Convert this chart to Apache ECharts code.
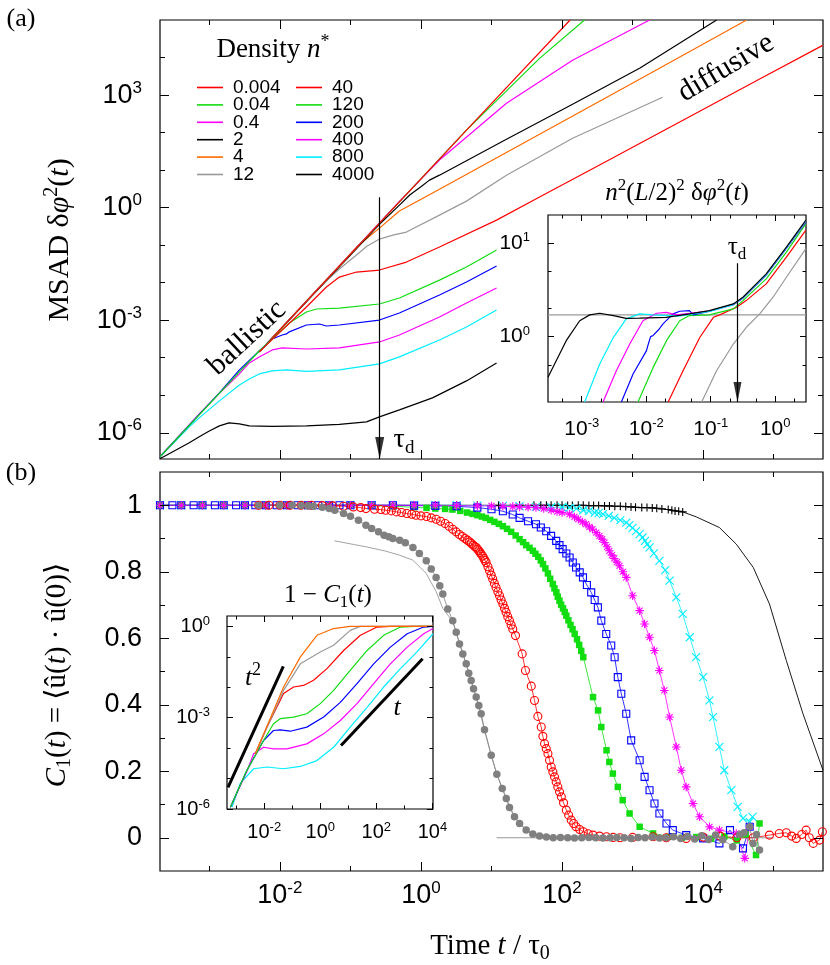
<!DOCTYPE html>
<html><head><meta charset="utf-8">
<script src="https://cdn.jsdelivr.net/npm/echarts@6/dist/echarts.min.js"></script>
<style>html,body{margin:0;padding:0;background:#fff}#c{width:830px;height:965px}</style>
</head><body><div id="c"></div>
<script>
// ================= DATA =================
// Panel (a): MSAD vs t/tau0, per density n*
const msad_0p004 = [[5.1e-3,1.43e-4],[4.42,116],[130,1.0e5]];
const msad_0p04  = [[5.1e-3,1.43e-4],[4.42,116],[48,9.5e3],[208,1.0e5]];
const msad_0p4   = [[5.1e-3,1.43e-4],[0.495,1.46],[1.83,18.5],[16.3,604],[141,8430],[1742,1.0e5]];
const msad_2     = [[5.1e-3,1.43e-4],[0.258,0.36],[0.35,0.62],[0.495,1.17],[0.7,2.2],[1.0,3.6],[1.32,5.4],[1.83,7.33],[16.3,66.6],[141,569],[1256,5160],[15520,1.0e5]];
const msad_4     = [[5.1e-3,1.43e-4],[0.122,0.0889],[0.258,0.284],[0.495,0.81],[1.83,3.1],[48,90],[1256,2630],[41400,1.0e5]];
const msad_12    = [[5.1e-3,1.43e-4],[0.0363,7.65e-3],[0.0698,0.0231],[0.122,0.0544],[0.169,0.092],[0.258,0.145],[0.4,0.185],[0.623,0.223],[1.83,0.631],[4.42,1.49],[16.3,7.33],[141,70.8],[2667,873]];
const msad_40    = [[5.1e-3,1.43e-4],[0.0238,2.25e-3],[0.0457,7.65e-3],[0.0698,0.0141],[0.122,0.0192],[0.258,0.0217],[0.623,0.0354],[1.83,0.0889],[11.8,0.465],[48,1.91],[428,17.3],[11220,468],[63240,2680],[4.95e5,2.11e4]];
const msad_120   = [[2e-4,2.3e-7],[2.67e-3,4.19e-5],[5.1e-3,1.51e-4],[7.8e-3,3.16e-4],[0.0136,8.43e-4],[0.0238,1.65e-3],[0.033,1.99e-3],[0.0698,2.11e-3],[0.258,2.70e-3],[0.495,3.90e-3],[1.83,0.0117],[4.42,0.0261],[11.8,0.074]];
const msad_200   = [[2e-4,2.3e-7],[1.39e-3,1.16e-5],[2.67e-3,4.73e-5],[5.1e-3,1.51e-4],[7.8e-3,3.16e-4],[0.0108,4.04e-4],[0.0124,4.3e-4],[0.0136,4.9e-4],[0.0238,7.45e-4],[0.0363,7.93e-4],[0.0457,7.0e-4],[0.0698,7.45e-4],[0.258,1.01e-3],[0.495,1.56e-3],[1.83,4.69e-3],[4.42,0.0104],[11.8,0.0277]];
const msad_400   = [[2e-4,2.3e-7],[7.2e-4,3.18e-6],[1.39e-3,1.12e-5],[2.67e-3,3.70e-5],[3.69e-3,7.26e-5],[5.1e-3,1.05e-4],[7.8e-3,1.61e-4],[0.0108,1.82e-4],[0.0238,1.71e-4],[0.0698,1.82e-4],[0.258,2.63e-4],[0.495,4.04e-4],[1.83,1.22e-3],[4.42,2.87e-3],[11.8,7.2e-3]];
const msad_800   = [[2e-4,2.3e-7],[5.2e-4,1.44e-6],[7.2e-4,2.49e-6],[1.39e-3,7.08e-6],[2.67e-3,1.88e-5],[3.69e-3,2.72e-5],[5.1e-3,3.70e-5],[7.8e-3,4.45e-5],[0.0124,4.73e-5],[0.0238,4.31e-5],[0.0698,4.73e-5],[0.258,6.84e-5],[0.495,1.05e-4],[1.83,2.97e-4],[4.42,6.59e-4],[11.8,1.87e-3]];
const msad_4000  = [[2e-4,2.02e-7],[5.2e-4,5.4e-7],[7.2e-4,7.8e-7],[1.0e-3,1.12e-6],[1.39e-3,1.53e-6],[1.9e-3,1.84e-6],[2.67e-3,1.73e-6],[3.69e-3,1.53e-6],[7.8e-3,1.48e-6],[0.0238,1.53e-6],[0.0698,1.67e-6],[0.169,1.95e-6],[0.258,2.65e-6],[0.495,4.08e-6],[1.455,8.5e-6],[4.42,2.41e-5],[11.8,7.26e-5]];

// Inset (a): n^2 (L/2)^2 MSAD
const scaled_4000 = [[3.0e-4,0.367],[5.75e-4,0.906],[9.3e-4,1.48],[1.33e-3,1.71],[1.9e-3,1.78],[3.1e-3,1.68],[4.9e-3,1.57],[7.9e-3,1.58],[0.0204,1.61],[0.0468,1.75],[0.0955,1.90],[0.224,2.24],[0.316,2.64],[0.724,4.69],[1.49,9.06],[2.97,17.5]];
const scaled_800  = [[1.11e-3,0.2],[1.9e-3,0.509],[3.1e-3,0.984],[4.9e-3,1.55],[7.9e-3,1.75],[0.0128,1.71],[0.0316,1.66],[0.0955,1.86],[0.224,2.2],[0.316,2.6],[0.724,4.6],[1.49,8.9],[2.97,17.2]];
const scaled_400  = [[2.14e-3,0.2],[3.44e-3,0.432],[5.55e-3,0.834],[8.9e-3,1.48],[0.0145,1.78],[0.0204,1.82],[0.0295,1.71],[0.0955,1.88],[0.224,2.21],[0.316,2.6],[0.724,4.6],[1.49,8.9],[2.97,17.0]];
const scaled_200  = [[4.12e-3,0.2],[6.25e-3,0.398],[0.0101,0.708],[0.0107,0.82],[0.0117,1.0],[0.0123,0.97],[0.0128,1.03],[0.0158,1.2],[0.0182,1.37],[0.0261,1.75],[0.0331,1.87],[0.0468,1.90],[0.0537,1.71],[0.0955,1.87],[0.224,2.2],[0.316,2.58],[0.724,4.55],[1.49,8.8],[2.97,16.8]];
const scaled_120  = [[7.46e-3,0.2],[0.0128,0.469],[0.0206,0.906],[0.0331,1.48],[0.0468,1.68],[0.0955,1.71],[0.224,1.98],[0.316,2.43],[0.724,4.15],[1.49,8.0],[2.97,16.1]];
const scaled_40   = [[0.0219,0.2],[0.0372,0.432],[0.0676,0.98],[0.11,1.61],[0.138,1.71],[0.251,2.06],[0.355,2.43],[0.724,3.67],[1.49,7.08],[2.97,13.7]];
const scaled_12   = [[0.0724,0.2],[0.123,0.432],[0.224,0.834],[0.357,1.26],[0.575,1.75],[0.925,2.64],[1.49,4.32],[2.97,8.7]];
const plateauLevel = [[3e-4,1.71],[3,1.71]];
const tauD = 0.26;

// Panel (b): C1(t)
const c1_12 = [[0.005,1],[0.01,1],[0.015,1],[0.02,0.999],[0.025,0.998],[0.03,0.997],[0.04,0.994],[0.05,0.99],[0.06,0.985],[0.08,0.975],[0.1,0.967],[0.13,0.955],[0.166,0.94],[0.2,0.93],[0.25,0.92],[0.3,0.91],[0.35,0.905],[0.4,0.9],[0.5,0.895],[0.6,0.887],[0.77,0.873],[0.95,0.855],[1.19,0.833],[1.4,0.808],[1.64,0.783],[1.85,0.758],[2.04,0.733],[2.4,0.688],[2.82,0.653],[3.16,0.618],[3.52,0.583],[3.92,0.553],[4.38,0.523],[4.76,0.495],[5.15,0.473],[5.56,0.448],[6.07,0.423],[6.61,0.398],[7.14,0.373],[7.96,0.325],[9.91,0.248],[11.9,0.191],[14.2,0.148],[16.2,0.118],[18.0,0.091],[21.2,0.063],[25.0,0.043],[31.0,0.023],[38.5,0.011],[48,0.005],[60,0.002],[75,0],[95,0.001],[120,0],[150,-0.001],[190,0],[240,0.001],[300,0],[380,-0.001],[480,0],[600,0.001],[760,0],[950,-0.002],[1200,0.001],[1500,0],[1900,0.002],[2400,-0.001],[3000,0],[3800,0.003],[4800,-0.002],[6000,0.004],[7600,-0.004],[9500,0.006],[12000,-0.005],[15000,0.008],[19000,-0.006],[26300,-0.027],[33000,0.01],[38000,0.015],[45700,0.033],[51000,-0.017],[57000,0.01],[63000,-0.037]];
const c1_12_curve = [[0.0593,0.893],[0.167,0.875],[0.316,0.862],[0.495,0.85],[0.766,0.835],[1.186,0.795],[1.644,0.74],[2.04,0.69],[2.82,0.65],[4.38,0.523],[6.07,0.423],[7.96,0.325],[9.91,0.248],[11.9,0.191],[16.2,0.118],[21.2,0.063],[31,0.023],[38.5,0.011],[60,0.002],[100,0]];
const c1_zero = [[11.8,0],[1e5,0]];
const c1_40 = [[0.005,1],[0.007,1],[0.01,1],[0.014,1],[0.02,1],[0.028,1],[0.04,0.999],[0.056,0.998],[0.08,0.997],[0.11,0.995],[0.14,0.993],[0.166,0.99],[0.22,0.988],[0.27,0.987],[0.316,0.985],[0.38,0.983],[0.45,0.98],[0.53,0.978],[0.63,0.975],[0.74,0.973],[0.85,0.97],[1.0,0.968],[1.2,0.966],[1.4,0.962],[1.64,0.958],[1.9,0.952],[2.2,0.945],[2.5,0.937],[2.82,0.928],[3.15,0.92],[3.5,0.912],[3.85,0.906],[4.2,0.9],[4.55,0.895],[4.88,0.89],[5.2,0.885],[5.5,0.88],[5.8,0.876],[6.07,0.873],[6.35,0.868],[6.6,0.863],[6.9,0.858],[7.14,0.853],[7.5,0.847],[7.8,0.84],[8.1,0.834],[8.41,0.828],[8.9,0.815],[9.38,0.803],[9.9,0.79],[10.4,0.778],[11.0,0.765],[11.6,0.753],[12.3,0.74],[13.0,0.728],[13.7,0.715],[14.5,0.703],[15.3,0.69],[16.1,0.678],[17.0,0.665],[18.0,0.653],[19.0,0.64],[20.0,0.628],[21.9,0.608],[27.2,0.553],[30.3,0.503],[36.6,0.456],[40.7,0.413],[45.4,0.365],[50.7,0.333],[53.5,0.305],[56.5,0.283],[59.7,0.268],[63.1,0.253],[66.5,0.233],[70.2,0.213],[74.1,0.198],[78.3,0.183],[82.6,0.168],[87.1,0.153],[92.2,0.138],[97.7,0.123],[105,0.105],[115,0.083],[124,0.068],[135,0.053],[146,0.043],[158,0.033],[178,0.025],[200,0.018],[235,0.012],[275,0.008],[340,0.005],[427,0.003],[530,0.001],[661,0],[1000,0.001],[1950,0.003],[3000,0],[5750,-0.002],[10000,0.002],[17400,0.005],[30000,0],[51300,0],[87100,0.008],[1.2e5,0.013],[1.51e5,0.015],[1.8e5,0.005],[2.09e5,-0.002],[2.5e5,0.01],[2.88e5,0.023],[3.2e5,0.0],[3.63e5,-0.017],[4.47e5,-0.007],[4.9e5,0.018]];
const c1_120 = [[2e-4,1],[4e-4,1],[8e-4,1],[1.6e-3,1],[3.2e-3,1],[6.3e-3,1],[0.0126,1],[0.025,1],[0.05,1],[0.1,1],[0.2,0.999],[0.4,0.997],[0.8,0.994],[1.2,0.992],[1.6,0.99],[2.2,0.989],[2.8,0.987],[3.6,0.983],[4.5,0.978],[5.4,0.974],[6.3,0.97],[7.3,0.966],[8.3,0.962],[9.6,0.956],[11,0.95],[12.7,0.944],[14.5,0.937],[16.6,0.929],[19,0.92],[22,0.909],[25,0.898],[28,0.889],[31,0.88],[34.6,0.872],[38.6,0.863],[42,0.854],[46,0.845],[50,0.834],[53.7,0.823],[58,0.81],[63,0.795],[68,0.779],[74,0.763],[78,0.75],[83,0.738],[87,0.725],[92,0.713],[97,0.701],[103,0.69],[109,0.679],[115,0.668],[123,0.654],[132,0.64],[141,0.627],[151,0.613],[163,0.597],[175,0.58],[187,0.562],[200,0.543],[275,0.423],[324,0.383],[360,0.333],[427,0.263],[468,0.228],[525,0.193],[617,0.153],[724,0.113],[906,0.073],[1259,0.033],[1950,0.013],[3311,0.003],[5000,0],[8000,0.002],[13000,-0.003],[20000,0.004],[30000,-0.008],[40000,0.01],[56200,-0.052],[63000,0.043]];
const c1_200 = [[2e-4,1],[3e-4,1],[4e-4,1],[6e-4,1],[8e-4,1],[1.2e-3,1],[1.6e-3,1],[2.4e-3,1],[3.2e-3,1],[4.5e-3,1],[6.3e-3,1],[9e-3,1],[0.0126,1],[0.018,1],[0.025,1],[0.035,1],[0.05,1],[0.07,1],[0.1,1],[0.2,1],[0.4,1],[0.8,0.999],[1.6,0.998],[3.2,0.997],[6.3,0.993],[10,0.988],[14.5,0.982],[20,0.972],[25,0.962],[33,0.952],[42.7,0.943],[50,0.933],[59.6,0.922],[70,0.908],[82.6,0.893],[92,0.88],[102,0.868],[115,0.855],[128,0.843],[142,0.828],[158,0.813],[178,0.798],[198,0.783],[225,0.76],[259,0.738],[290,0.715],[322,0.693],[360,0.653],[423,0.613],[498,0.578],[556,0.543],[617,0.483],[692,0.433],[813,0.373],[955,0.293],[1259,0.233],[1479,0.183],[1738,0.143],[2042,0.103],[2399,0.073],[3020,0.043],[3715,0.023],[5754,0.008],[10000,-0.002],[17000,-0.017],[24000,0.023],[36700,-0.032],[45700,0.033]];
const c1_400 = [[2e-4,1],[4e-4,1],[8e-4,1],[1.6e-3,1],[3.2e-3,1],[6.3e-3,1],[0.0126,1],[0.025,1],[0.05,1],[0.1,1],[0.2,1],[0.4,1],[0.8,1],[1.6,1],[3.2,0.999],[6.3,0.998],[10,0.998],[14.5,0.997],[20,0.996],[25,0.995],[33,0.994],[42.7,0.993],[55,0.99],[70,0.985],[85,0.981],[100,0.978],[128,0.973],[150,0.965],[170,0.958],[195,0.95],[219,0.943],[245,0.935],[270,0.928],[305,0.918],[339,0.908],[370,0.898],[400,0.888],[435,0.875],[468,0.863],[510,0.85],[550,0.84],[600,0.829],[653,0.818],[730,0.8],[813,0.783],[1000,0.728],[1259,0.683],[1479,0.643],[1738,0.603],[2042,0.563],[2399,0.503],[2818,0.443],[3350,0.363],[4169,0.273],[4898,0.203],[5754,0.153],[7178,0.103],[8913,0.063],[12300,0.033],[17000,0.023],[29500,0.013],[38900,-0.062],[45700,0.033]];
const c1_800 = [[2e-4,1],[4e-4,1],[8e-4,1],[1.6e-3,1],[3.2e-3,1],[6.3e-3,1],[0.0126,1],[0.025,1],[0.05,1],[0.1,1],[0.2,1],[0.4,1],[0.8,1],[1.6,1],[3.2,1],[6.3,0.999],[14.5,0.998],[25,0.997],[42.7,0.995],[70,0.994],[100,0.994],[128,0.993],[160,0.99],[200,0.985],[240,0.982],[290,0.978],[330,0.976],[380,0.973],[460,0.968],[550,0.962],[670,0.955],[813,0.948],[900,0.94],[1000,0.932],[1120,0.922],[1259,0.913],[1380,0.903],[1500,0.893],[1620,0.883],[1738,0.873],[2000,0.855],[2399,0.833],[2900,0.805],[3350,0.773],[4169,0.723],[5129,0.673],[6457,0.603],[7943,0.543],[10000,0.483],[12300,0.413],[13800,0.363],[17000,0.273],[19950,0.203],[25100,0.143],[30900,0.093],[36700,0.058],[45700,0.048],[50100,0.063]];
const c1_4000 = [[2e-4,1],[4e-4,1],[8e-4,1],[1.6e-3,1],[3.2e-3,1],[6.3e-3,1],[0.0126,1],[0.025,1],[0.05,1],[0.1,1],[0.2,1],[0.4,1],[0.8,1],[1.6,1],[3.2,1],[6.3,1],[12.6,1],[25,1],[40,1],[50,1],[60,1],[70,1],[85,1],[100,1],[120,0.999],[140,0.999],[170,1],[200,1],[240,0.999],[280,0.999],[330,0.999],[400,0.998],[470,0.998],[560,0.997],[670,0.997],[800,0.996],[950,0.995],[1100,0.994],[1350,0.993],[1600,0.993],[1900,0.992],[2200,0.991],[2600,0.989],[3200,0.987],[3600,0.985],[4000,0.983],[4500,0.982],[5130,0.98]];
const c1_4000_tail = [[5130,0.98],[8000,0.965],[17000,0.933],[29500,0.883],[51300,0.813],[87100,0.703],[1.51e5,0.533],[2.6e5,0.373],[5e5,0.203]];

// Inset (b): 1 - C1(t)
const oneMinus_4   = [[4.8e-3,6.5e-5],[0.049,0.0102],[0.195,0.1],[0.76,0.51],[2.99,0.85],[11.7,1.0],[1.05e4,1.0]];
const oneMinus_12  = [[4.8e-3,6.5e-5],[0.049,7.9e-3],[0.195,0.059],[1.0,0.145],[2.99,0.24],[11.7,0.74],[26.9,1.0],[1.05e4,1.0]];
const oneMinus_40  = [[4.8e-3,6.5e-5],[0.01245,4.9e-4],[0.049,6.2e-3],[0.112,0.0102],[0.251,0.0115],[0.575,0.017],[1.73,0.041],[6.8,0.162],[26.9,0.51],[105,0.955],[316,1.0],[1.05e4,1.0]];
const oneMinus_120 = [[6.2e-4,1.15e-6],[2.4e-3,1.86e-5],[9.5e-3,1.78e-4],[0.0214,6.3e-4],[0.037,9.3e-4],[0.112,1.05e-3],[0.331,1.35e-3],[1.0,2.9e-3],[2.99,7.9e-3],[11.7,0.036],[46.8,0.162],[182,0.51],[724,0.955],[2140,1.0],[1.05e4,1.0]];
const oneMinus_200 = [[6.2e-4,1.15e-6],[2.4e-3,1.86e-5],[9.5e-3,1.78e-4],[0.0214,3.8e-4],[0.037,4.0e-4],[0.085,3.6e-4],[0.331,4.9e-4],[1.32,1.05e-3],[5.18,3.2e-3],[20.4,0.0132],[80.4,0.059],[316,0.209],[1259,0.575],[4900,0.955],[1.05e4,1.0]];
const oneMinus_400 = [[6.2e-4,1.15e-6],[2.4e-3,1.7e-5],[4.2e-3,6.5e-5],[9.5e-3,1.07e-4],[0.0214,9.5e-5],[0.0646,9.5e-5],[0.331,1.38e-4],[1.32,2.95e-4],[5.18,8.1e-4],[20.4,2.9e-3],[80.4,0.0132],[316,0.059],[1259,0.209],[4900,0.575],[1.05e4,0.85]];
const oneMinus_800 = [[7.1e-4,1.15e-6],[1.38e-3,6.8e-6],[4.2e-3,2.1e-5],[0.01245,2.4e-5],[0.049,2.1e-5],[0.195,2.5e-5],[0.76,3.9e-5],[2.99,1.07e-4],[11.7,4.9e-4],[46.8,2.2e-3],[182,0.0102],[724,0.041],[2820,0.145],[1.05e4,0.575]];
const guideT2 = [[5.1e-4,5.1e-6],[0.048,0.049]];
const guideT1 = [[5.5,1.23e-4],[4470,0.087]];

// Tick values
const ticksX_major = [1e-2,1,1e2,1e4];
const ticksX_minor = [1e-3,1e-1,10,1e3,1e5];
const ticksYa_major = [1e-6,1e-3,1,1e3];
const ticksYa_minor = [1e-5,1e-4,1e-2,1e-1,10,100,1e4];
const ticksYb_major = [0,0.2,0.4,0.6,0.8,1];
const ticksYb_minor = [0.1,0.3,0.5,0.7,0.9];
const ticksIAx_major = [1e-3,1e-2,1e-1,1];
const ticksIAx_minor = [5e-4,2e-3,5e-3,2e-2,5e-2,0.2,0.5,2];
const ticksIAy_major = [1,10];
const ticksIAy_minor = [0.5,2,5];
const ticksIBx_major = [1e-2,1,1e2,1e4];
const ticksIBx_minor = [1e-3,1e-1,10,1e3];
const ticksIBy_major = [1e-6,1e-3,1];
const ticksIBy_minor = [1e-5,1e-4,1e-2,1e-1];

// ================= STYLE =================
const SERIF = 'Liberation Serif', SANS = 'Liberation Sans';
const C = {red:'#ff0000', green:'#11dd11', magenta:'#ff00ff', black:'#000000', orange:'#ff6a00', gray:'#999999', blue:'#0000ff', cyan:'#00eeff', dgray:'#808080'};

const powFmt = v => '{b|10}{s|' + Math.round(Math.log10(v)) + '}';
const decFmt = v => (Math.abs(v) < 1e-9 ? '0' : (Math.abs(v - 1) < 1e-9 ? '1' : v.toFixed(1)));
function powRich(sz){ return {b:{fontFamily:SANS,fontSize:sz,lineHeight:sz*1.15,color:'#000'}, s:{fontFamily:SANS,fontSize:Math.round(sz*0.63),verticalAlign:'top',lineHeight:sz*0.75,color:'#000'}}; }

const xAxes = [], yAxes = [];
function axisPair(list, g, type, pos, min, max, major, minor, lmaj, lmin, label){
  const idx = list.length;
  const mk = (ticks, len, lab) => {
    const a = {type, gridIndex:g, position:pos, min, max,
      axisLine:{show:false, onZero:false}, splitLine:{show:false},
      minorTick:{show:false}, minorSplitLine:{show:false},
      axisTick:{show:true, inside:true, length:len, customValues:ticks, lineStyle:{color:'#000', width:1}},
      axisLabel: lab ? Object.assign({show:true, customValues:ticks}, lab) : {show:false},
      axisPointer:{show:false}, z:5};
    if (type === 'log') a.logBase = 10;
    return a;
  };
  list.push(mk(major, lmaj, label));
  list.push(mk(minor, lmin, null));
  return idx;
}
const labX = {formatter:powFmt, rich:powRich(27), margin:9};
const labYa = {formatter:powFmt, rich:powRich(27), margin:18};
const labYb = {formatter:decFmt, fontFamily:SANS, fontSize:27, color:'#000', margin:18};
const labIA = {formatter:powFmt, rich:powRich(21), margin:15};
const labIAy = {formatter:powFmt, rich:powRich(21), margin:18};
const labIB = {formatter:powFmt, rich:powRich(20), margin:12};
const labIBy = {formatter:powFmt, rich:powRich(20), margin:17};

// grid 0: panel (a)
const xA = axisPair(xAxes,0,'log','bottom',2e-4,5e5,ticksX_major,ticksX_minor,9,5,null);
axisPair(xAxes,0,'log','top',2e-4,5e5,ticksX_major,ticksX_minor,9,5,null);
const yA = axisPair(yAxes,0,'log','left',2e-7,1e5,ticksYa_major,ticksYa_minor,9,5,labYa);
axisPair(yAxes,0,'log','right',2e-7,1e5,ticksYa_major,ticksYa_minor,9,5,null);
// grid 1: inset (a)
const xIA = axisPair(xAxes,1,'log','bottom',3e-4,3,ticksIAx_major,ticksIAx_minor,6,3.5,labIA);
axisPair(xAxes,1,'log','top',3e-4,3,ticksIAx_major,ticksIAx_minor,6,3.5,null);
const yIA = axisPair(yAxes,1,'log','left',0.2,20,ticksIAy_major,ticksIAy_minor,6,3.5,labIAy);
axisPair(yAxes,1,'log','right',0.2,20,ticksIAy_major,ticksIAy_minor,6,3.5,null);
// grid 2: panel (b)
const xB = axisPair(xAxes,2,'log','bottom',2e-4,5e5,ticksX_major,ticksX_minor,9,5,labX);
axisPair(xAxes,2,'log','top',2e-4,5e5,ticksX_major,ticksX_minor,9,5,null);
const yB = axisPair(yAxes,2,'value','left',-0.1,1.1,ticksYb_major,ticksYb_minor,9,5,labYb);
axisPair(yAxes,2,'value','right',-0.1,1.1,ticksYb_major,ticksYb_minor,9,5,null);
// grid 3: inset (b)
const xIB = axisPair(xAxes,3,'log','bottom',4.7e-4,1.05e4,ticksIBx_major,ticksIBx_minor,6,3.5,labIB);
axisPair(xAxes,3,'log','top',4.7e-4,1.05e4,ticksIBx_major,ticksIBx_minor,6,3.5,null);
const yIB = axisPair(yAxes,3,'log','left',1e-6,2.2,ticksIBy_major,ticksIBy_minor,6,3.5,labIBy);
axisPair(yAxes,3,'log','right',1e-6,2.2,ticksIBy_major,ticksIBy_minor,6,3.5,null);

function line(name, data, color, xi, yi, w, z){
  return {type:'line', name, data, xAxisIndex:xi, yAxisIndex:yi, symbol:'none', showSymbol:false,
    lineStyle:{color, width:w}, itemStyle:{color}, emphasis:{disabled:true}, silent:true, z:z||3, animation:false};
}
function marks(name, data, color, symbol, size, filled, xi, yi, bw){
  return {type:'line', name, data, xAxisIndex:xi, yAxisIndex:yi, symbol, symbolSize:size,
    showSymbol:true, showAllSymbol:true, lineStyle:{color, width:0.8},
    itemStyle: filled ? {color, borderWidth:0} : {color:'rgba(0,0,0,0)', borderColor:color, borderWidth:bw||1},
    emphasis:{disabled:true}, silent:true, z:4, animation:false};
}
const PLUS = 'path://M5,0L5,10M0,5L10,5';
const CROSS = 'path://M0,0L10,10M0,10L10,0';
const STAR = 'path://M5,0L5,10M0,5L10,5M1.5,1.5L8.5,8.5M1.5,8.5L8.5,1.5';
const ARROW = 'path://M0,0L8,0L4,22Z';

const series = [
  // panel (a)
  line('12', msad_12, C.gray, xA, yA, 1.2),
  line('4', msad_4, C.orange, xA, yA, 1.2),
  line('2', msad_2, C.black, xA, yA, 1.2),
  line('0.4', msad_0p4, C.magenta, xA, yA, 1.2),
  line('0.04', msad_0p04, C.green, xA, yA, 1.2),
  line('0.004', msad_0p004, C.red, xA, yA, 1.2),
  line('4000', msad_4000, C.black, xA, yA, 1.2),
  line('800', msad_800, C.cyan, xA, yA, 1.2),
  line('400', msad_400, C.magenta, xA, yA, 1.2),
  line('200', msad_200, C.blue, xA, yA, 1.2),
  line('120', msad_120, C.green, xA, yA, 1.2),
  Object.assign(line('40', msad_40, C.red, xA, yA, 1.2), {
    markLine:{silent:true, symbol:['none','none'], label:{show:false}, lineStyle:{color:'#000', width:1.2, type:'solid'},
      data:[[{coord:[tauD,1.9]},{coord:[tauD,2e-7]}]]}}),
  {type:'scatter', name:'arrA', data:[[tauD,2e-7]], xAxisIndex:xA, yAxisIndex:yA, symbol:ARROW, symbolSize:[9,22], symbolOffset:[0,-11], itemStyle:{color:'#000'}, clip:false, silent:true, z:6},
  // inset (a)
  line('ia_plateau', plateauLevel, C.gray, xIA, yIA, 1.2, 2),
  line('ia_12', scaled_12, C.gray, xIA, yIA, 1.2),
  line('ia_40', scaled_40, C.red, xIA, yIA, 1.2),
  line('ia_120', scaled_120, C.green, xIA, yIA, 1.2),
  line('ia_200', scaled_200, C.blue, xIA, yIA, 1.2),
  line('ia_400', scaled_400, C.magenta, xIA, yIA, 1.2),
  line('ia_800', scaled_800, C.cyan, xIA, yIA, 1.2),
  Object.assign(line('ia_4000', scaled_4000, C.black, xIA, yIA, 1.2), {
    markLine:{silent:true, symbol:['none','none'], label:{show:false}, lineStyle:{color:'#000', width:1.2, type:'solid'},
      data:[[{coord:[tauD,6.1]},{coord:[tauD,0.2]}]]}}),
  {type:'scatter', name:'arrIA', data:[[tauD,0.2]], xAxisIndex:xIA, yAxisIndex:yIA, symbol:ARROW, symbolSize:[8,20], symbolOffset:[0,-10], itemStyle:{color:'#000'}, clip:false, silent:true, z:6},
  // panel (b)
  line('b_zero', c1_zero, C.gray, xB, yB, 1, 2),
  line('b_12curve', c1_12_curve, C.gray, xB, yB, 0.9, 2),
  line('b_4000tail', c1_4000_tail, C.black, xB, yB, 0.9, 3),
  marks('b_4000', c1_4000, C.black, PLUS, 8, false, xB, yB, 1.1),
  marks('b_800', c1_800, C.cyan, CROSS, 8, false, xB, yB, 1.1),
  marks('b_120', c1_120, C.green, 'rect', 6.5, true, xB, yB),
  marks('b_200', c1_200, C.blue, 'rect', 7, false, xB, yB, 1.1),
  marks('b_400', c1_400, C.magenta, STAR, 8.5, false, xB, yB, 1.1),
  marks('b_40', c1_40, C.red, 'circle', 8, false, xB, yB, 1.1),
  marks('b_12', c1_12, C.dgray, 'circle', 7.5, true, xB, yB),
  // inset (b)
  line('ib_800', oneMinus_800, C.cyan, xIB, yIB, 1.2),
  line('ib_400', oneMinus_400, C.magenta, xIB, yIB, 1.2),
  line('ib_200', oneMinus_200, C.blue, xIB, yIB, 1.2),
  line('ib_120', oneMinus_120, C.green, xIB, yIB, 1.2),
  line('ib_40', oneMinus_40, C.red, xIB, yIB, 1.2),
  line('ib_12', oneMinus_12, C.gray, xIB, yIB, 1.2),
  line('ib_4', oneMinus_4, C.orange, xIB, yIB, 1.2),
  line('ib_t2', guideT2, C.black, xIB, yIB, 3),
  line('ib_t1', guideT1, C.black, xIB, yIB, 3)
];

function rich(sz){
  return {
    r:{fontFamily:SERIF, fontSize:sz, lineHeight:sz*1.25, color:'#000'},
    i:{fontFamily:SERIF, fontStyle:'italic', fontSize:sz, lineHeight:sz*1.25, color:'#000'},
    s:{fontFamily:SERIF, fontSize:Math.round(sz*0.68), verticalAlign:'top', lineHeight:sz*0.8, color:'#000'},
    sub:{fontFamily:SERIF, fontSize:Math.round(sz*0.68), verticalAlign:'bottom', lineHeight:sz*0.62, color:'#000'},
    u:{fontFamily:'DejaVu Serif', fontSize:sz, lineHeight:sz*1.25, color:'#000'}
  };
}
function txt(x, y, text, sz, rot){
  return {type:'text', x, y, rotation:rot||0, silent:true, z:20,
    style:{text, rich:rich(sz), align:'center', verticalAlign:'middle', fill:'#000'}};
}
const graphics = [
  txt(21, 19, '{r|(a)}', 26),
  txt(21, 473, '{r|(b)}', 26),
  txt(60, 240, '{r|MSAD δ}{i|φ}{s|2}{r|(}{i|t}{r|)}', 30, Math.PI/2),
  txt(57, 675, '{i|C}{sub|1}{r|(}{i|t}{r|) = }{u|⟨}{r|û(}{i|t}{r|) · û(0)}{u|⟩}', 29, Math.PI/2),
  txt(490, 946, '{r|Time }{i|t}{r| / τ}{sub|0}', 29),
  txt(273, 50, '{r|Density }{i|n}{s|*}', 27),
  txt(247, 338, '{r|ballistic}', 30, 0.75),
  txt(726, 68, '{r|diffusive}', 30, 0.54),
  txt(404, 440, '{r|τ}{sub|d}', 28),
  txt(737, 247, '{r|τ}{sub|d}', 25),
  txt(677, 193, '{i|n}{s|2}{r|(}{i|L}{r|/2)}{s|2}{r| δ}{i|φ}{s|2}{r|(}{i|t}{r|)}', 25),
  txt(328, 595, '{r|1 − }{i|C}{sub|1}{r|(}{i|t}{r|)}', 25),
  txt(253, 678, '{i|t}{s|2}', 26),
  txt(397, 708, '{i|t}', 26)
];

const legendBase = {orient:'vertical', icon:'rect', itemWidth:26, itemHeight:1.6, itemGap:-1.6, selectedMode:false,
  textStyle:{fontFamily:SANS, fontSize:19, color:'#000', padding:[0,0,0,5]}};
const legendLeft = ['0.004','0.04','0.4','2','4','12'];
const legendRight = ['40','120','200','400','800','4000'];

const gridStyle = {show:true, borderColor:'#000', borderWidth:1.2, backgroundColor:'#fff'};
const option = {
  animation:false,
  backgroundColor:'#fff',
  textStyle:{fontFamily:SANS},
  grid:[
    Object.assign({left:160, top:20, width:663, height:439}, gridStyle),
    Object.assign({left:548, top:215, width:258, height:187}, gridStyle),
    Object.assign({left:160, top:472, width:663, height:399}, gridStyle),
    Object.assign({left:227, top:616, width:206, height:193}, gridStyle)
  ],
  legend:[
    Object.assign({data:legendLeft, left:192, top:73}, legendBase),
    Object.assign({data:legendRight, left:291, top:73}, legendBase)
  ],
  xAxis:xAxes, yAxis:yAxes, series, graphic:graphics
};
const chart = echarts.init(document.getElementById('c'), null, {renderer:'canvas'});
chart.setOption(option);
</script></body></html>
